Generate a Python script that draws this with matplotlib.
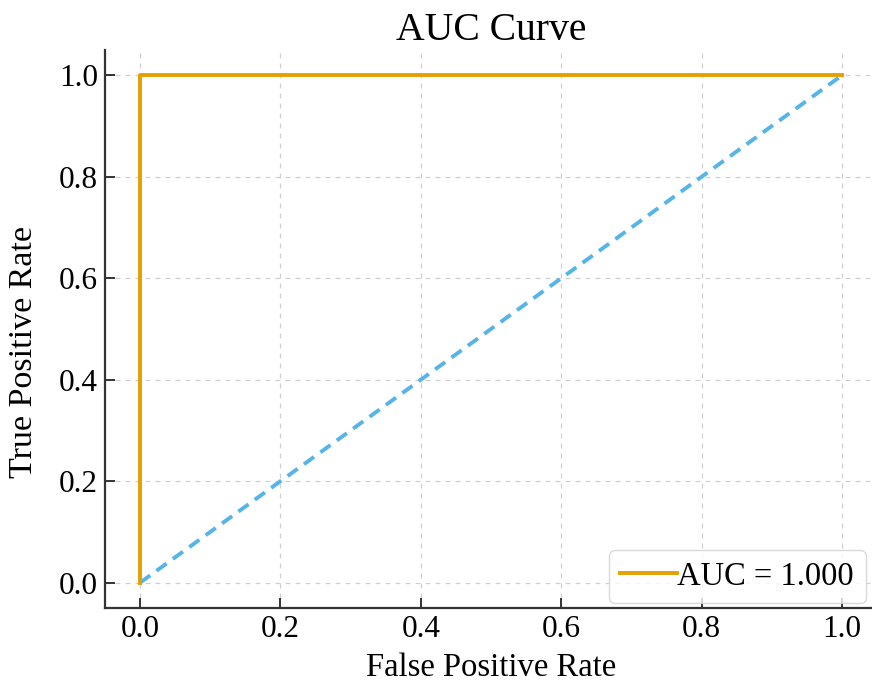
import matplotlib
matplotlib.use("Agg")
import matplotlib.pyplot as plt

fpr = [0.0, 0.0, 1.0]
tpr = [0.0, 1.0, 1.0]
diag_x = [0.0, 1.0]
diag_y = [0.0, 1.0]
auc_value = 1.000
ticks = [0.0, 0.2, 0.4, 0.6, 0.8, 1.0]

plt.rcParams['font.family'] = ['Liberation Serif', 'DejaVu Serif']

fig = plt.figure(figsize=(8.72, 6.85), dpi=100)
ax = fig.add_axes([105/872, 1-608/685, 772/872, (608-50)/685])

ax.plot(fpr, tpr, color='#E69F00', lw=2.8, label=f'AUC = {auc_value:.3f}', zorder=3)
ax.plot(diag_x, diag_y, color='#56B4E9', lw=2.8, ls=(0, (3.2, 2.0)), zorder=2)

ax.set_xlim(-0.05, 1.05)
ax.set_ylim(-0.05, 1.05)
ax.set_xticks(ticks)
ax.set_yticks(ticks)
ax.set_xticklabels([f'{t:.1f}' for t in ticks])
ax.set_yticklabels([f'{t:.1f}' for t in ticks])

ax.grid(True, ls=(0, (4, 4)), color='#d0d0d0', lw=0.9)
ax.set_axisbelow(True)
for s in ['top', 'right']:
    ax.spines[s].set_visible(False)
for s in ['left', 'bottom']:
    ax.spines[s].set_color('#333333')
    ax.spines[s].set_linewidth(1.6)
ax.tick_params(direction='in', length=7, width=1.4, color='#333333', labelsize=22.5, pad=5)

ax.set_title('AUC Curve', fontsize=28.5, pad=7)
ax.set_xlabel('False Positive Rate', fontsize=23.5, labelpad=6)
ax.set_ylabel('True Positive Rate', fontsize=24.5)
ax.yaxis.set_label_coords(-0.085, 0.459)

leg = ax.legend(loc='lower right', fontsize=23.5, handlelength=1.75, handletextpad=0.0,
                borderpad=0.35, borderaxespad=0.15, framealpha=0.8, edgecolor='#d0d0d0',
                fancybox=True, bbox_to_anchor=(0.9915, 0.0))

fig.savefig('out.png', dpi=100)
